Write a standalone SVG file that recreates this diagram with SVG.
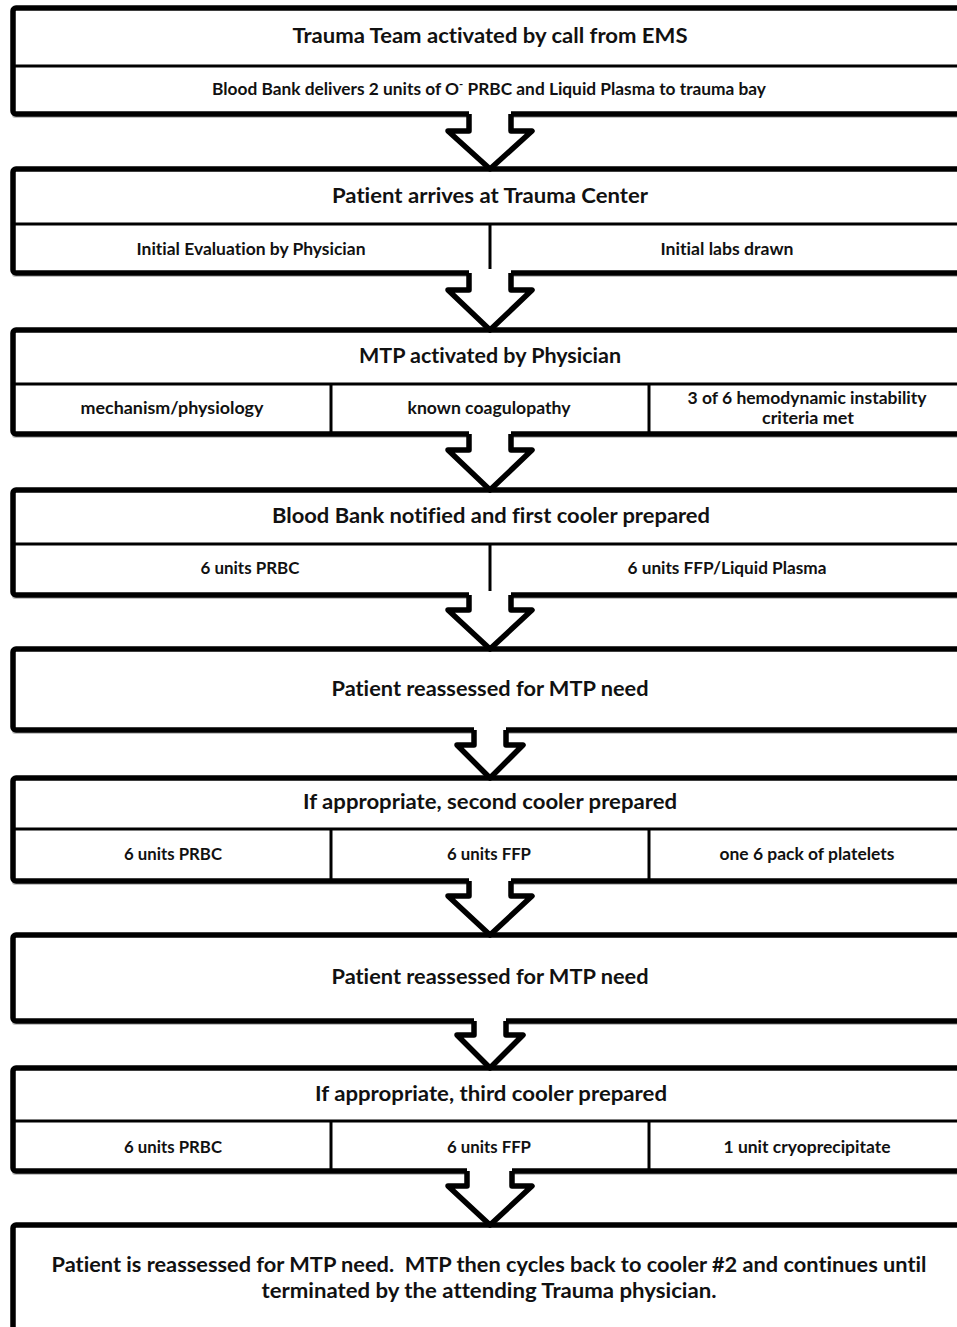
<svg xmlns="http://www.w3.org/2000/svg" width="957" height="1327" viewBox="0 0 957 1327">
<defs>
<style>
.box{fill:#fff;stroke:#000;stroke-width:5.5;}
.shadow{fill:#888;opacity:0.5;}
.div{stroke:#000;stroke-width:3;fill:none;}
.t{font-family:Lato,"Liberation Sans",sans-serif;font-weight:bold;fill:#111;text-anchor:middle;font-variant-ligatures:none;}
.h{font-size:21px;}
.s{font-size:17px;}
.afill{fill:#fff;stroke:none;}
.aline{fill:none;stroke:#000;stroke-width:5.5;stroke-linejoin:round;}
</style>
</defs>
<rect width="957" height="1327" fill="#fff"/>

<g id="node1">
<rect class="shadow" x="12" y="10" width="960" height="108" rx="3"/>
<rect class="box" x="13" y="8" width="957" height="106" rx="3"/>
<line class="div" x1="13" y1="66" x2="970" y2="66"/>
<text class="t h" x="490" y="43" textLength="395" lengthAdjust="spacingAndGlyphs">Trauma Team activated by call from EMS</text>
<text class="t s" x="489" y="95" textLength="554" lengthAdjust="spacingAndGlyphs">Blood Bank delivers 2 units of O<tspan dy="-7" font-size="11">-</tspan><tspan dy="7"> PRBC and Liquid Plasma to trauma bay</tspan></text>
</g>

<g id="node2">
<rect class="shadow" x="12" y="171" width="960" height="106" rx="3"/>
<rect class="box" x="13" y="169" width="957" height="104" rx="3"/>
<line class="div" x1="13" y1="224" x2="970" y2="224"/>
<line class="div" x1="490" y1="224" x2="490" y2="273"/>
<text class="t h" x="490" y="203" textLength="316" lengthAdjust="spacingAndGlyphs">Patient arrives at Trauma Center</text>
<text class="t s" x="251" y="255" textLength="229" lengthAdjust="spacingAndGlyphs">Initial Evaluation by Physician</text>
<text class="t s" x="727" y="255" textLength="133" lengthAdjust="spacingAndGlyphs">Initial labs drawn</text>
</g>

<g id="node3">
<rect class="shadow" x="12" y="332" width="960" height="106" rx="3"/>
<rect class="box" x="13" y="330" width="957" height="104" rx="3"/>
<line class="div" x1="13" y1="384" x2="970" y2="384"/>
<line class="div" x1="331" y1="384" x2="331" y2="434"/>
<line class="div" x1="649" y1="384" x2="649" y2="434"/>
<text class="t h" x="490" y="363" textLength="262" lengthAdjust="spacingAndGlyphs">MTP activated by Physician</text>
<text class="t s" x="172" y="414" textLength="183" lengthAdjust="spacingAndGlyphs">mechanism/physiology</text>
<text class="t s" x="489" y="414" textLength="163" lengthAdjust="spacingAndGlyphs">known coagulopathy</text>
<text class="t s" x="807" y="404" textLength="239" lengthAdjust="spacingAndGlyphs">3 of 6 hemodynamic instability</text>
<text class="t s" x="808" y="424" textLength="92" lengthAdjust="spacingAndGlyphs">criteria met</text>
</g>

<g id="node4">
<rect class="shadow" x="12" y="492" width="960" height="107" rx="3"/>
<rect class="box" x="13" y="490" width="957" height="105" rx="3"/>
<line class="div" x1="13" y1="544" x2="970" y2="544"/>
<line class="div" x1="490" y1="544" x2="490" y2="595"/>
<text class="t h" x="491" y="523" textLength="438" lengthAdjust="spacingAndGlyphs">Blood Bank notified and first cooler prepared</text>
<text class="t s" x="250" y="574" textLength="99" lengthAdjust="spacingAndGlyphs">6 units PRBC</text>
<text class="t s" x="727" y="574" textLength="199" lengthAdjust="spacingAndGlyphs">6 units FFP/Liquid Plasma</text>
</g>

<g id="node5">
<rect class="shadow" x="12" y="651" width="960" height="83" rx="3"/>
<rect class="box" x="13" y="649" width="957" height="81" rx="3"/>
<text class="t h" x="490" y="696" textLength="317" lengthAdjust="spacingAndGlyphs">Patient reassessed for MTP need</text>
</g>

<g id="node6">
<rect class="shadow" x="12" y="780" width="960" height="105" rx="3"/>
<rect class="box" x="13" y="778" width="957" height="103" rx="3"/>
<line class="div" x1="13" y1="829" x2="970" y2="829"/>
<line class="div" x1="331" y1="829" x2="331" y2="881"/>
<line class="div" x1="649" y1="829" x2="649" y2="881"/>
<text class="t h" x="490" y="809" textLength="374" lengthAdjust="spacingAndGlyphs">If appropriate, second cooler prepared</text>
<text class="t s" x="173" y="860" textLength="98" lengthAdjust="spacingAndGlyphs">6 units PRBC</text>
<text class="t s" x="489" y="860" textLength="84" lengthAdjust="spacingAndGlyphs">6 units FFP</text>
<text class="t s" x="807" y="860" textLength="175" lengthAdjust="spacingAndGlyphs">one 6 pack of platelets</text>
</g>

<g id="node7">
<rect class="shadow" x="12" y="937" width="960" height="88" rx="3"/>
<rect class="box" x="13" y="935" width="957" height="86" rx="3"/>
<text class="t h" x="490" y="984" textLength="317" lengthAdjust="spacingAndGlyphs">Patient reassessed for MTP need</text>
</g>

<g id="node8">
<rect class="shadow" x="12" y="1070" width="960" height="105" rx="3"/>
<rect class="box" x="13" y="1068" width="957" height="103" rx="3"/>
<line class="div" x1="13" y1="1121" x2="970" y2="1121"/>
<line class="div" x1="331" y1="1121" x2="331" y2="1171"/>
<line class="div" x1="649" y1="1121" x2="649" y2="1171"/>
<text class="t h" x="491" y="1101" textLength="352" lengthAdjust="spacingAndGlyphs">If appropriate, third cooler prepared</text>
<text class="t s" x="173" y="1153" textLength="98" lengthAdjust="spacingAndGlyphs">6 units PRBC</text>
<text class="t s" x="489" y="1153" textLength="84" lengthAdjust="spacingAndGlyphs">6 units FFP</text>
<text class="t s" x="807" y="1153" textLength="167" lengthAdjust="spacingAndGlyphs">1 unit cryoprecipitate</text>
</g>

<g id="node9">
<rect class="box" x="13" y="1225" width="957" height="120" rx="3"/>
<text class="t h" x="489" y="1272" textLength="875" lengthAdjust="spacingAndGlyphs">Patient is reassessed for MTP need.&#160; MTP then cycles back to cooler #2 and continues until</text>
<text class="t h" x="489" y="1298" textLength="455" lengthAdjust="spacingAndGlyphs">terminated by the attending Trauma physician.</text>
</g>

<g id="connectors">
<polygon class="afill" points="469,110 469,131 448,131 490,169 532,131 511,131 511,110"/>
<polyline class="aline" points="469,114 469,131 448,131 490,169 532,131 511,131 511,114"/>
<polygon class="afill" points="469,269 469,290 448,290 490,330 532,290 511,290 511,269"/>
<polyline class="aline" points="469,273 469,290 448,290 490,330 532,290 511,290 511,273"/>
<polygon class="afill" points="469,430 469,450 448,450 490,490 532,450 511,450 511,430"/>
<polyline class="aline" points="469,434 469,450 448,450 490,490 532,450 511,450 511,434"/>
<polygon class="afill" points="469,591 469,610 448,610 490,649 532,610 511,610 511,591"/>
<polyline class="aline" points="469,595 469,610 448,610 490,649 532,610 511,610 511,595"/>
<polygon class="afill" points="474,726 474,745 457,745 490,778 523,745 506,745 506,726"/>
<polyline class="aline" points="474,730 474,745 457,745 490,778 523,745 506,745 506,730"/>
<polygon class="afill" points="469,877 469,896 448,896 490,935 532,896 511,896 511,877"/>
<polyline class="aline" points="469,881 469,896 448,896 490,935 532,896 511,896 511,881"/>
<polygon class="afill" points="474,1017 474,1035 457,1035 490,1068 523,1035 506,1035 506,1017"/>
<polyline class="aline" points="474,1021 474,1035 457,1035 490,1068 523,1035 506,1035 506,1021"/>
<polygon class="afill" points="467,1167 467,1186 448,1186 490,1225 532,1186 512,1186 512,1167"/>
<polyline class="aline" points="467,1171 467,1186 448,1186 490,1225 532,1186 512,1186 512,1171"/>
</g>
</svg>
